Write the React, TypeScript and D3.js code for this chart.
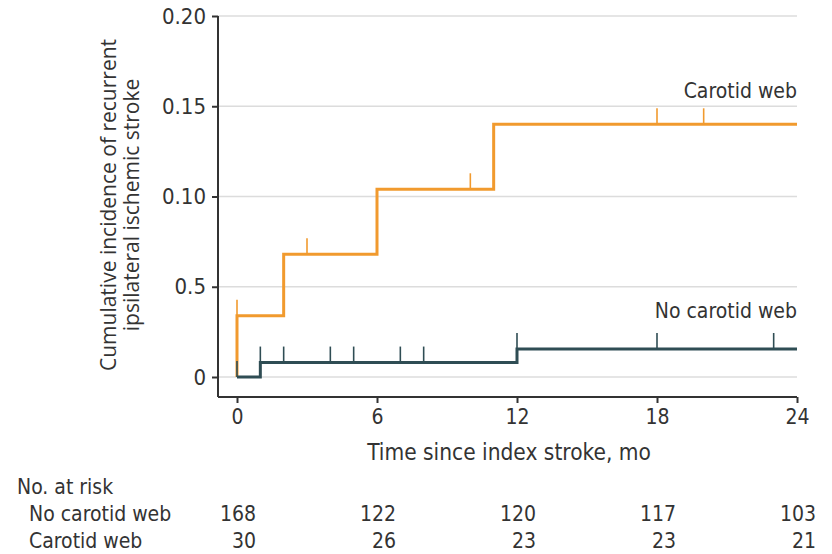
import React, { useEffect, useRef } from 'react'
import * as d3 from 'd3'

// values
const yTickValues = [0, 0.05, 0.1, 0.15, 0.2]
const yTickLabels = ['0', '0.5', '0.10', '0.15', '0.20']
const xTickValues = [0, 6, 12, 18, 24]

const carotidWebCurve: [number, number][] = [[0, 0], [0, 0.034], [2, 0.068], [6, 0.104], [11, 0.140], [24, 0.140]]
const noCarotidWebCurve: [number, number][] = [[0, 0], [1, 0.008], [12, 0.0155], [24, 0.0155]]
const carotidWebCensored = [0, 3, 10, 18, 20]
const noCarotidWebCensored = [0, 1, 2, 4, 5, 7, 8, 12, 18, 23]

const riskGroups = ['No carotid web', 'Carotid web']
const riskNoWeb = [168, 122, 120, 117, 103]
const riskWeb = [30, 26, 23, 23, 21]

const W = 832
const H = 554
const ORANGE = '#f19a2e'
const TEAL = '#2f4d54'
const INK = '#333333'
const narrow = '"Liberation Sans Narrow", "DejaVu Sans Condensed", "Roboto", sans-serif'

function App() {
	const svgRef = useRef<SVGSVGElement>(null)

	useEffect(() => {
		const svg = d3.select(svgRef.current)
		svg.selectAll('*').remove()

		const x = d3.scaleLinear().domain([0, 24]).range([237, 797])
		const y = d3.scaleLinear().domain([0, 0.2]).range([377, 16])
		const axisLeftX = 218
		const axisBottomY = 397

		// grid
		svg.append('g').selectAll('line').data(yTickValues).join('line')
			.attr('x1', axisLeftX).attr('x2', x(24))
			.attr('y1', d => y(d)).attr('y2', d => y(d))
			.attr('stroke', '#dcdcdc').attr('stroke-width', 1.5)

		// y axis
		const yAxis = d3.axisLeft(y).tickValues(yTickValues)
			.tickFormat((d, i) => yTickLabels[i]).tickSize(6).tickSizeOuter(0)
		const gy = svg.append('g').attr('transform', `translate(${axisLeftX},0)`).call(yAxis)
		gy.select('.domain').remove()
		gy.append('line').attr('x1', 0).attr('x2', 0).attr('y1', y(0.2)).attr('y2', axisBottomY)
			.attr('stroke', INK).attr('stroke-width', 2)
		gy.selectAll('.tick line').attr('stroke', INK).attr('stroke-width', 2)
		gy.selectAll('.tick text').attr('fill', INK).attr('x', -12)
			.style('font-family', narrow).style('font-size', '22px')

		// x axis
		const xAxis = d3.axisBottom(x).tickValues(xTickValues).tickSize(6).tickSizeOuter(0)
		const gx = svg.append('g').attr('transform', `translate(0,${axisBottomY})`).call(xAxis)
		gx.select('.domain').remove()
		gx.append('line').attr('x1', axisLeftX).attr('x2', x(24)).attr('y1', 0).attr('y2', 0)
			.attr('stroke', INK).attr('stroke-width', 2)
		gx.selectAll('.tick line').attr('stroke', INK).attr('stroke-width', 2)
		gx.selectAll('.tick text').attr('fill', INK).attr('y', 12)
			.style('font-family', narrow).style('font-size', '21px')

		svg.append('text').attr('x', 509).attr('y', 460)
			.attr('text-anchor', 'middle').attr('fill', INK)
			.style('font-family', narrow).style('font-size', '22.5px')
			.text('Time since index stroke, mo')

		// y title
		const yt = svg.append('text').attr('transform', 'translate(0,205) rotate(-90)')
			.attr('text-anchor', 'middle').attr('fill', INK)
			.attr('font-family', '"Open Sans", sans-serif').attr('font-size', 21)
		yt.append('tspan').attr('x', 0).attr('y', 116).text('Cumulative incidence of recurrent')
		yt.append('tspan').attr('x', 0).attr('y', 139).text('ipsilateral ischemic stroke')

		const line = d3.line<[number, number]>().x(d => x(d[0])).y(d => y(d[1])).curve(d3.curveStepAfter)
		const valueAt = (curve: [number, number][], t: number) => {
			let v = 0
			curve.forEach(p => { if (p[0] <= t) v = p[1] })
			return v
		}

		const drawSeries = (curve: [number, number][], censored: number[], color: string) => {
			svg.append('path').datum(curve).attr('d', line)
				.attr('fill', 'none').attr('stroke', color).attr('stroke-width', 3)
			svg.append('g').selectAll('line').data(censored).join('line')
				.attr('x1', d => x(d)).attr('x2', d => x(d))
				.attr('y1', d => y(valueAt(curve, d))).attr('y2', d => y(valueAt(curve, d)) - 16)
				.attr('stroke', color).attr('stroke-width', 1.6)
		}
		drawSeries(carotidWebCurve, carotidWebCensored, ORANGE)
		drawSeries(noCarotidWebCurve, noCarotidWebCensored, TEAL)

		svg.append('text').attr('x', x(24)).attr('y', 98).attr('text-anchor', 'end').attr('fill', INK)
			.style('font-family', narrow).style('font-size', '21px').text('Carotid web')
		svg.append('text').attr('x', x(24)).attr('y', 318).attr('text-anchor', 'end').attr('fill', INK)
			.style('font-family', narrow).style('font-size', '21px').text('No carotid web')

		// risk table
		const risk = svg.append('g').style('font-family', narrow).style('font-size', '21px').attr('fill', INK)
		risk.append('text').attr('x', 17).attr('y', 494).text('No. at risk')
		const rows = [riskNoWeb, riskWeb]
		rows.forEach((vals, r) => {
			const ry = 521 + r * 27
			risk.append('text').attr('x', 29).attr('y', ry).text(riskGroups[r])
			risk.append('g').selectAll('text').data(vals).join('text')
				.attr('x', (d, i) => x(xTickValues[i]) + 19).attr('y', ry)
				.attr('text-anchor', 'end').text(d => d)
		})
	}, [])

	return (
		<svg ref={svgRef} width={W} height={H}
			style={{ position: 'absolute', left: 0, top: 0, background: '#fff' }} />
	)
}

export default App
